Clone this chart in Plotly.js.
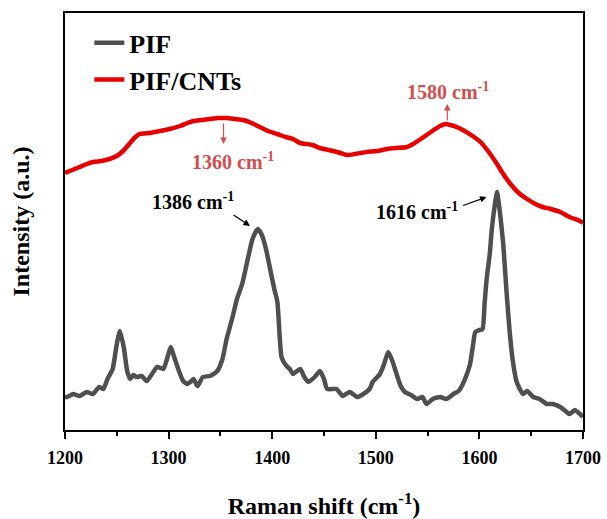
<!DOCTYPE html>
<html>
<head>
<meta charset="utf-8">
<script src="https://cdn.plot.ly/plotly-3.0.1.min.js"></script>
<style>html,body{margin:0;padding:0;background:#fff;}#chart{width:607px;height:519px;}</style>
</head>
<body>
<div id="chart"></div>
<script>
// Raman shift (cm-1)
const pifX = [1200,1202,1208,1214,1221,1227,1233,1237,1241,1246,1250,1253,1257,1260,1263,1266,1269,1274,1279,1284,1289,1295,1299,1302,1306,1310,1314,1318,1321,1324,1328,1333,1340,1347,1352,1356,1362,1366,1371,1376,1381,1386,1390,1394,1398,1402,1405,1409,1413,1417,1420,1427,1431,1435,1441,1446,1450,1453,1462,1468,1475,1482,1488,1494,1497,1504,1508,1512,1516,1520,1524,1528,1534,1540,1545,1549,1555,1562,1568,1575,1580,1584,1588,1591,1594,1596,1600,1603,1605,1607,1610,1612,1615,1617,1620,1623,1626,1629,1632,1636,1642,1646,1652,1658,1665,1671,1678,1683,1687,1692,1697,1700];
const pifY = [33,33,36,34,38,36,43,41,51,61,86,99,81,59,51,55,53,54,49,56,63,61,73,83,71,59,49,46,48,51,44,53,54,59,71,91,114,131,146,169,191,201,195,181,161,141,128,73,65,61,56,61,53,48,53,59,51,41,41,34,38,33,36,41,48,56,66,78,69,56,44,38,35,31,33,26,31,33,31,36,39,46,56,66,86,98,100,101,126,151,176,201,226,238,216,186,141,101,71,48,36,39,33,31,26,26,23,19,16,20,16,13];
const cntX = [1200,1207,1214,1221,1227,1235,1243,1250,1256,1262,1267,1272,1282,1292,1301,1311,1318,1324,1332,1340,1348,1356,1364,1372,1380,1388,1396,1405,1413,1420,1427,1439,1446,1459,1466,1472,1480,1491,1501,1511,1520,1530,1536,1542,1549,1556,1562,1568,1572,1578,1584,1592,1601,1609,1617,1623,1630,1638,1646,1654,1661,1669,1678,1687,1697,1700];
const cntY = [257,260,263,266,268,269,271,274,279,286,292,296,297,299,301,304,307,309,310,311,312,312,311,310,307,303,299,296,293,291,287,285,282,279,277,275,276,278,279,281,282,283,286,290,295,300,304,306,305,303,300,295,288,278,266,256,246,237,231,226,223,221,218,213,209,207];
const seriesNames = ['PIF', 'PIF/CNTs'];
const xTickVals = [1200,1300,1400,1500,1600,1700];
const peakLabels = ['1360 cm<sup>-1</sup>','1580 cm<sup>-1</sup>','1386 cm<sup>-1</sup>','1616 cm<sup>-1</sup>'];

const FONT = 'Liberation Serif, Times New Roman, serif';
const RED_TXT = '#d24d4d';

const traces = [
  {x: pifX, y: pifY, name: seriesNames[0], mode: 'lines', line: {color: '#4f4f4f', width: 4.5, shape: 'spline', smoothing: 0.5}},
  {x: cntX, y: cntY, name: seriesNames[1], mode: 'lines', line: {color: '#e60000', width: 4.5, shape: 'spline', smoothing: 0.5}}
];

function arrow(x, y, ax, ay, color) {
  return {x: x, y: y, xref: 'x', yref: 'y', text: '', showarrow: true, ax: ax, ay: ay,
          arrowhead: 2, arrowsize: 1.1, arrowwidth: 1.2, arrowcolor: color};
}
function label(x, y, t, color) {
  return {x: x, y: y, xref: 'x', yref: 'y', text: t, showarrow: false,
          font: {family: FONT, size: 20, color: color, weight: 'bold'}};
}

const layout = {
  width: 607, height: 519,
  margin: {l: 65, r: 24, t: 13, b: 89},
  paper_bgcolor: '#fff', plot_bgcolor: '#fff',
  font: {family: FONT, color: '#000', weight: 'bold'},
  showlegend: true,
  legend: {x: 0.047, y: 0.985, xanchor: 'left', yanchor: 'top', bgcolor: 'rgba(0,0,0,0)',
           font: {family: FONT, size: 26, color: '#000', weight: 'bold'}, tracegroupgap: 0},
  xaxis: {
    range: [1200, 1700], tickvals: xTickVals, ticktext: xTickVals.map(String),
    ticks: 'outside', ticklen: 7, tickwidth: 2, tickcolor: '#000', ticklabelstandoff: 3,
    minor: {dtick: 50, tick0: 1200, ticks: 'outside', ticklen: 4, tickwidth: 2, tickcolor: '#000', showgrid: false},
    showline: true, linecolor: '#000', linewidth: 2, mirror: true,
    showgrid: false, zeroline: false,
    tickfont: {family: FONT, size: 18, color: '#000', weight: 'bold'},
    title: {text: 'Raman shift (cm<sup>-1</sup>)', font: {family: FONT, size: 24, color: '#000', weight: 'bold'}, standoff: 34}
  },
  yaxis: {
    range: [0, 417], showticklabels: false, ticks: '',
    showline: true, linecolor: '#000', linewidth: 2, mirror: true,
    showgrid: false, zeroline: false,
    title: {text: 'Intensity (a.u.)', font: {family: FONT, size: 24, color: '#000', weight: 'bold'}, standoff: 27}
  },
  annotations: [
    arrow(1353, 286, 0, -22, RED_TXT),
    label(1362, 269, peakLabels[0], RED_TXT),
    arrow(1569, 326, 0, 18, RED_TXT),
    label(1570, 339, peakLabels[1], RED_TXT),
    arrow(1378.6, 204, -18, -12, '#000'),
    label(1323.6, 229, peakLabels[2], '#000'),
    arrow(1607, 233, -25, 9, '#000'),
    label(1540, 219, peakLabels[3], '#000')
  ]
};

Plotly.newPlot('chart', traces, layout, {displayModeBar: false, staticPlot: true});
</script>
</body>
</html>
